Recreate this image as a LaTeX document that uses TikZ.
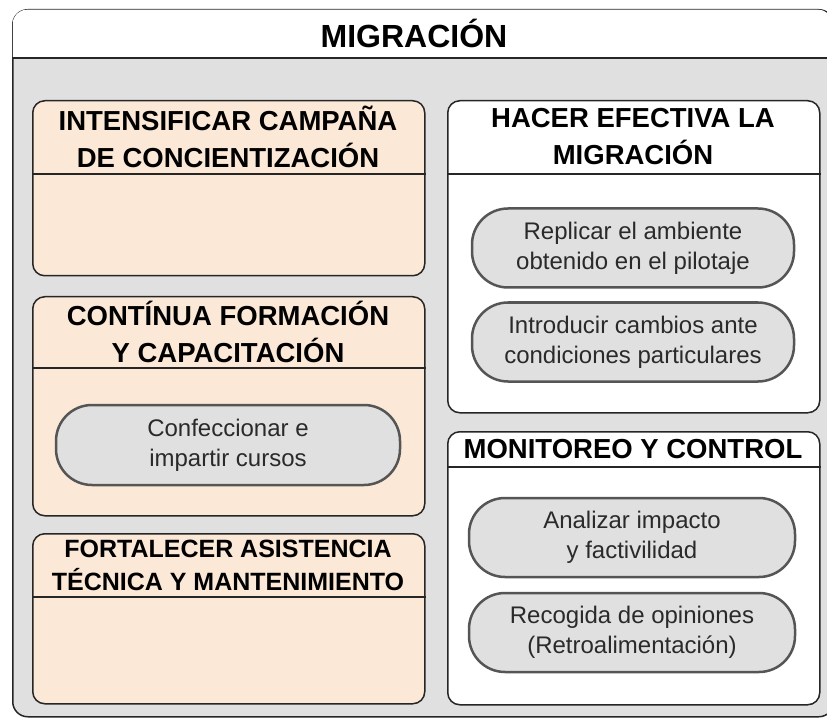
\documentclass[tikz,border=0pt]{standalone}
\usepackage{fontspec}
\setmainfont{Liberation Sans}
\usetikzlibrary{positioning}
\definecolor{bggray}{HTML}{E0E0E0}
\definecolor{peach}{HTML}{FCE8D6}
\definecolor{pillline}{HTML}{555555}
\definecolor{pilltext}{HTML}{2A2A2A}
\begin{document}
\begin{tikzpicture}[x=1pt,y=-1pt,
                    group/.style={draw=black!85,line width=1.5pt,rounded corners=12pt,
                                  inner sep=0pt,anchor=north west},
                    rule/.style={draw=black!85,line width=1.5pt},
                    head/.style={font=\bfseries\fontsize{27.5}{37}\selectfont,align=center},
                    task/.style={draw=pillline,fill=bggray,line width=2.5pt,
                                 rounded corners=36pt,minimum height=79pt,align=center,
                                 text=pilltext,font=\fontsize{24}{30}\selectfont}]
  \clip (0,0) rectangle (827,719);

  % marco exterior
  \node[group,fill=bggray,rounded corners=15pt,minimum width=821pt,
        minimum height=707pt] (migracion) at (12,9) {};
  \fill[white] (12.75,58) [rounded corners=14pt] -- (12.75,9.75) -- (832.25,9.75)
               [sharp corners] -- (832.25,58) -- cycle;
  \draw[rule] (migracion.west |- 0,58) -- (migracion.east |- 0,58);
  \node[font=\bfseries\fontsize{32}{36}\selectfont] (titulo) at (414,33.5) {MIGRACIÓN};

  % columna izquierda
  \node[group,fill=peach,minimum width=392pt,minimum height=175pt] (campana) at (32,100) {};
  \draw[rule] (campana.west |- 0,174) -- (campana.east |- 0,174);
  \node[head] (campanaT) at (228,137) {INTENSIFICAR CAMPAÑA\\DE CONCIENTIZACIÓN};

  \node[group,fill=peach,minimum width=392pt,minimum height=219pt] (formacion) at (32,296) {};
  \draw[rule] (formacion.west |- 0,368) -- (formacion.east |- 0,368);
  \node[head] (formacionT) at (228,332) {CONTÍNUA FORMACIÓN\\Y CAPACITACIÓN};
  \node[task,minimum width=344pt,minimum height=80pt] (cursos) at (228,445)
       {Confeccionar e\\impartir cursos};

  \node[group,fill=peach,minimum width=392pt,minimum height=170pt] (asistencia) at (32,533) {};
  \draw[rule] (asistencia.west |- 0,597) -- (asistencia.east |- 0,597);
  \node[head,font=\bfseries\fontsize{25}{33}\selectfont] (asistenciaT) at (228,565)
       {FORTALECER ASISTENCIA\\TÉCNICA Y MANTENIMIENTO};

  % columna derecha
  \node[group,fill=white,minimum width=372pt,minimum height=312pt] (efectiva) at (447,100) {};
  \draw[rule] (efectiva.west |- 0,174) -- (efectiva.east |- 0,174);
  \node[head] (efectivaT) at (633,137) {HACER EFECTIVA LA\\MIGRACIÓN};
  \node[task,minimum width=322pt] (replicar) at (633,248)
       {Replicar el ambiente\\obtenido en el pilotaje};
  \node[task,minimum width=322pt] (cambios) at (633,342)
       {Introducir cambios ante\\condiciones particulares};

  \node[group,fill=white,minimum width=372pt,minimum height=273pt] (monitoreo) at (447,431) {};
  \draw[rule] (monitoreo.west |- 0,467) -- (monitoreo.east |- 0,467);
  \node[head] (monitoreoT) at (633,449) {MONITOREO Y CONTROL};
  \node[task,minimum width=326pt] (impacto) at (632,537.5)
       {Analizar impacto\\y factivilidad};
  \node[task,minimum width=326pt] (opiniones) at (632,632.5)
       {Recogida de opiniones\\(Retroalimentación)};
\end{tikzpicture}
\end{document}
